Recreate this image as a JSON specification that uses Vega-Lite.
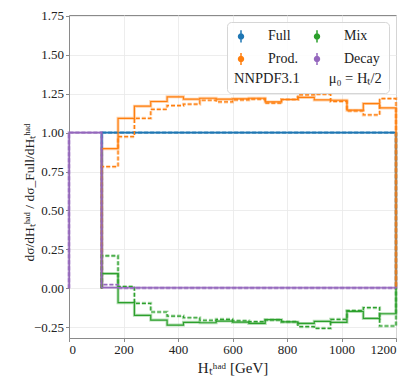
{
  "$schema": "https://vega.github.io/schema/vega-lite/v6.json",
  "width": 327,
  "height": 323,
  "autosize": {"type": "none"},
  "padding": {"left": 69, "top": 15, "right": 21, "bottom": 44},
  "background": "white",
  "config": {
    "view": {"stroke": "#8a8a8a", "strokeWidth": 1},
    "font": "Liberation Serif",
    "axis": {
      "domainColor": "#8a8a8a",
      "tickColor": "#8a8a8a",
      "gridColor": "#e8e8e8",
      "gridWidth": 0.8,
      "labelFont": "Liberation Serif",
      "labelFontSize": 13,
      "labelColor": "#222222",
      "titleFont": "Liberation Serif",
      "titleFontWeight": "normal",
      "titleColor": "#222222",
      "tickSize": 3.5,
      "labelPadding": 2
    },
    "legend": {
      "labelFont": "Liberation Serif",
      "labelFontSize": 14,
      "labelColor": "#222222",
      "titleFont": "Liberation Serif",
      "titleFontSize": 14.5,
      "titleFontWeight": "normal",
      "titleColor": "#222222"
    }
  },
  "data": {
    "values": [
      {"series": "Full", "variant": "nominal", "i": 0, "x": 120, "y": 0},
      {"series": "Full", "variant": "nominal", "i": 1, "x": 120, "y": 1},
      {"series": "Full", "variant": "nominal", "i": 2, "x": 1200, "y": 1},
      {"series": "Full", "variant": "nominal", "i": 3, "x": 1200, "y": 0},
      {"series": "Full", "variant": "alternative", "i": 0, "x": 120, "y": 0},
      {"series": "Full", "variant": "alternative", "i": 1, "x": 120, "y": 1},
      {"series": "Full", "variant": "alternative", "i": 2, "x": 1200, "y": 1},
      {"series": "Full", "variant": "alternative", "i": 3, "x": 1200, "y": 0},

      {"series": "Prod.", "variant": "nominal", "i": 0, "x": 120, "y": 0},
      {"series": "Prod.", "variant": "nominal", "i": 1, "x": 120, "y": 0.897},
      {"series": "Prod.", "variant": "nominal", "i": 2, "x": 180, "y": 1.092},
      {"series": "Prod.", "variant": "nominal", "i": 3, "x": 240, "y": 1.170},
      {"series": "Prod.", "variant": "nominal", "i": 4, "x": 300, "y": 1.200},
      {"series": "Prod.", "variant": "nominal", "i": 5, "x": 360, "y": 1.230},
      {"series": "Prod.", "variant": "nominal", "i": 6, "x": 420, "y": 1.215},
      {"series": "Prod.", "variant": "nominal", "i": 7, "x": 480, "y": 1.221},
      {"series": "Prod.", "variant": "nominal", "i": 8, "x": 540, "y": 1.215},
      {"series": "Prod.", "variant": "nominal", "i": 9, "x": 600, "y": 1.217},
      {"series": "Prod.", "variant": "nominal", "i": 10, "x": 660, "y": 1.221},
      {"series": "Prod.", "variant": "nominal", "i": 11, "x": 720, "y": 1.197},
      {"series": "Prod.", "variant": "nominal", "i": 12, "x": 780, "y": 1.213},
      {"series": "Prod.", "variant": "nominal", "i": 13, "x": 840, "y": 1.226},
      {"series": "Prod.", "variant": "nominal", "i": 14, "x": 900, "y": 1.210},
      {"series": "Prod.", "variant": "nominal", "i": 15, "x": 960, "y": 1.208},
      {"series": "Prod.", "variant": "nominal", "i": 16, "x": 1020, "y": 1.144},
      {"series": "Prod.", "variant": "nominal", "i": 17, "x": 1080, "y": 1.187},
      {"series": "Prod.", "variant": "nominal", "i": 18, "x": 1140, "y": 1.159},
      {"series": "Prod.", "variant": "nominal", "i": 19, "x": 1200, "y": 1.159},
      {"series": "Prod.", "variant": "nominal", "i": 20, "x": 1200, "y": 0},

      {"series": "Prod.", "variant": "alternative", "i": 0, "x": 120, "y": 0},
      {"series": "Prod.", "variant": "alternative", "i": 1, "x": 120, "y": 0.781},
      {"series": "Prod.", "variant": "alternative", "i": 2, "x": 180, "y": 0.974},
      {"series": "Prod.", "variant": "alternative", "i": 3, "x": 240, "y": 1.092},
      {"series": "Prod.", "variant": "alternative", "i": 4, "x": 300, "y": 1.150},
      {"series": "Prod.", "variant": "alternative", "i": 5, "x": 360, "y": 1.174},
      {"series": "Prod.", "variant": "alternative", "i": 6, "x": 420, "y": 1.183},
      {"series": "Prod.", "variant": "alternative", "i": 7, "x": 480, "y": 1.208},
      {"series": "Prod.", "variant": "alternative", "i": 8, "x": 540, "y": 1.197},
      {"series": "Prod.", "variant": "alternative", "i": 9, "x": 600, "y": 1.210},
      {"series": "Prod.", "variant": "alternative", "i": 10, "x": 660, "y": 1.215},
      {"series": "Prod.", "variant": "alternative", "i": 11, "x": 720, "y": 1.190},
      {"series": "Prod.", "variant": "alternative", "i": 12, "x": 780, "y": 1.213},
      {"series": "Prod.", "variant": "alternative", "i": 13, "x": 840, "y": 1.243},
      {"series": "Prod.", "variant": "alternative", "i": 14, "x": 900, "y": 1.247},
      {"series": "Prod.", "variant": "alternative", "i": 15, "x": 960, "y": 1.200},
      {"series": "Prod.", "variant": "alternative", "i": 16, "x": 1020, "y": 1.139},
      {"series": "Prod.", "variant": "alternative", "i": 17, "x": 1080, "y": 1.114},
      {"series": "Prod.", "variant": "alternative", "i": 18, "x": 1140, "y": 1.219},
      {"series": "Prod.", "variant": "alternative", "i": 19, "x": 1200, "y": 1.219},
      {"series": "Prod.", "variant": "alternative", "i": 20, "x": 1200, "y": 0},

      {"series": "Mix", "variant": "nominal", "i": 0, "x": 120, "y": 0},
      {"series": "Mix", "variant": "nominal", "i": 1, "x": 120, "y": 0.094},
      {"series": "Mix", "variant": "nominal", "i": 2, "x": 180, "y": -0.093},
      {"series": "Mix", "variant": "nominal", "i": 3, "x": 240, "y": -0.174},
      {"series": "Mix", "variant": "nominal", "i": 4, "x": 300, "y": -0.205},
      {"series": "Mix", "variant": "nominal", "i": 5, "x": 360, "y": -0.237},
      {"series": "Mix", "variant": "nominal", "i": 6, "x": 420, "y": -0.219},
      {"series": "Mix", "variant": "nominal", "i": 7, "x": 480, "y": -0.222},
      {"series": "Mix", "variant": "nominal", "i": 8, "x": 540, "y": -0.211},
      {"series": "Mix", "variant": "nominal", "i": 9, "x": 600, "y": -0.218},
      {"series": "Mix", "variant": "nominal", "i": 10, "x": 660, "y": -0.226},
      {"series": "Mix", "variant": "nominal", "i": 11, "x": 720, "y": -0.202},
      {"series": "Mix", "variant": "nominal", "i": 12, "x": 780, "y": -0.217},
      {"series": "Mix", "variant": "nominal", "i": 13, "x": 840, "y": -0.226},
      {"series": "Mix", "variant": "nominal", "i": 14, "x": 900, "y": -0.213},
      {"series": "Mix", "variant": "nominal", "i": 15, "x": 960, "y": -0.219},
      {"series": "Mix", "variant": "nominal", "i": 16, "x": 1020, "y": -0.149},
      {"series": "Mix", "variant": "nominal", "i": 17, "x": 1080, "y": -0.194},
      {"series": "Mix", "variant": "nominal", "i": 18, "x": 1140, "y": -0.164},
      {"series": "Mix", "variant": "nominal", "i": 19, "x": 1200, "y": -0.164},
      {"series": "Mix", "variant": "nominal", "i": 20, "x": 1200, "y": 0},

      {"series": "Mix", "variant": "alternative", "i": 0, "x": 120, "y": 0},
      {"series": "Mix", "variant": "alternative", "i": 1, "x": 120, "y": 0.208},
      {"series": "Mix", "variant": "alternative", "i": 2, "x": 180, "y": 0.011},
      {"series": "Mix", "variant": "alternative", "i": 3, "x": 240, "y": -0.097},
      {"series": "Mix", "variant": "alternative", "i": 4, "x": 300, "y": -0.153},
      {"series": "Mix", "variant": "alternative", "i": 5, "x": 360, "y": -0.179},
      {"series": "Mix", "variant": "alternative", "i": 6, "x": 420, "y": -0.190},
      {"series": "Mix", "variant": "alternative", "i": 7, "x": 480, "y": -0.206},
      {"series": "Mix", "variant": "alternative", "i": 8, "x": 540, "y": -0.200},
      {"series": "Mix", "variant": "alternative", "i": 9, "x": 600, "y": -0.209},
      {"series": "Mix", "variant": "alternative", "i": 10, "x": 660, "y": -0.215},
      {"series": "Mix", "variant": "alternative", "i": 11, "x": 720, "y": -0.204},
      {"series": "Mix", "variant": "alternative", "i": 12, "x": 780, "y": -0.215},
      {"series": "Mix", "variant": "alternative", "i": 13, "x": 840, "y": -0.247},
      {"series": "Mix", "variant": "alternative", "i": 14, "x": 900, "y": -0.258},
      {"series": "Mix", "variant": "alternative", "i": 15, "x": 960, "y": -0.200},
      {"series": "Mix", "variant": "alternative", "i": 16, "x": 1020, "y": -0.144},
      {"series": "Mix", "variant": "alternative", "i": 17, "x": 1080, "y": -0.125},
      {"series": "Mix", "variant": "alternative", "i": 18, "x": 1140, "y": -0.243},
      {"series": "Mix", "variant": "alternative", "i": 19, "x": 1200, "y": -0.243},
      {"series": "Mix", "variant": "alternative", "i": 20, "x": 1200, "y": 0},

      {"series": "Decay", "variant": "nominal", "i": 0, "x": 0, "y": 0},
      {"series": "Decay", "variant": "nominal", "i": 1, "x": 0, "y": 1},
      {"series": "Decay", "variant": "nominal", "i": 2, "x": 120, "y": 0.004},
      {"series": "Decay", "variant": "nominal", "i": 3, "x": 180, "y": 0.003},
      {"series": "Decay", "variant": "nominal", "i": 4, "x": 1140, "y": 0.003},
      {"series": "Decay", "variant": "nominal", "i": 5, "x": 1200, "y": 0.003},
      {"series": "Decay", "variant": "nominal", "i": 6, "x": 1200, "y": 0},
      {"series": "Decay", "variant": "alternative", "i": 0, "x": 0, "y": 0},
      {"series": "Decay", "variant": "alternative", "i": 1, "x": 0, "y": 1},
      {"series": "Decay", "variant": "alternative", "i": 2, "x": 120, "y": 0.023},
      {"series": "Decay", "variant": "alternative", "i": 3, "x": 180, "y": 0.002},
      {"series": "Decay", "variant": "alternative", "i": 4, "x": 1140, "y": 0.002},
      {"series": "Decay", "variant": "alternative", "i": 5, "x": 1200, "y": 0.002},
      {"series": "Decay", "variant": "alternative", "i": 6, "x": 1200, "y": 0}
    ]
  },
  "encoding": {
    "x": {
      "field": "x", "type": "quantitative",
      "scale": {"domain": [0, 1200], "nice": false, "zero": false},
      "axis": {"values": [0, 200, 400, 600, 800, 1000, 1200], "format": "d", "labelFont": "Liberation Serif", "title": "Hₜʰᵃᵈ [GeV]", "titleFontSize": 15, "titlePadding": 4}
    },
    "y": {
      "field": "y", "type": "quantitative",
      "scale": {"domain": [-0.32, 1.756], "nice": false, "zero": false},
      "axis": {"values": [-0.25, 0, 0.25, 0.5, 0.75, 1, 1.25, 1.5, 1.75], "format": ".2f", "labelFont": "Liberation Serif", "title": "dσ/dHₜʰᵃᵈ / dσ_Full/dHₜʰᵃᵈ", "titleFontSize": 13.5, "titleX": -33, "titleY": 177}
    },
    "color": {
      "field": "series", "type": "nominal",
      "scale": {"domain": ["Full", "Prod.", "Mix", "Decay"], "range": ["#1f77b4", "#ff7f0e", "#2ca02c", "#9467bd"]},
      "legend": {
        "orient": "top-right",
        "offset": 7,
        "columns": 2,
        "columnPadding": 12,
        "rowPadding": 3,
        "padding": 7,
        "fillColor": "rgba(255,255,255,0.85)",
        "strokeColor": "#d6d6d6",
        "cornerRadius": 4,
        "symbolType": "M0,-1L0,1M-0.4,0A0.4,0.4,0,1,0,0.4,0A0.4,0.4,0,1,0,-0.4,0Z",
        "symbolSize": 150,
        "symbolStrokeWidth": 1.5,
        "labelOffset": 20,
        "title": "NNPDF3.1\u2003\u2003μ₀ = Hₜ/2",
        "titleOrient": "bottom",
        "titlePadding": 4,
        "encode": {
          "symbols": {
            "update": {
              "fill": {"scale": "color", "field": "value"},
              "stroke": {"scale": "color", "field": "value"},
              "strokeDash": {"value": []},
              "opacity": {"value": 1}
            }
          }
        }
      }
    },
    "strokeDash": {
      "field": "variant", "type": "nominal",
      "scale": {"domain": ["nominal", "alternative"], "range": [[1, 0], [4, 2]]},
      "legend": null
    },
    "order": {"field": "i", "type": "quantitative"}
  },
  "layer": [
    {"mark": {"type": "line", "interpolate": "step-after", "strokeWidth": 3, "opacity": 0.35}},
    {"mark": {"type": "line", "interpolate": "step-after", "strokeWidth": 1.2}}
  ]
}
